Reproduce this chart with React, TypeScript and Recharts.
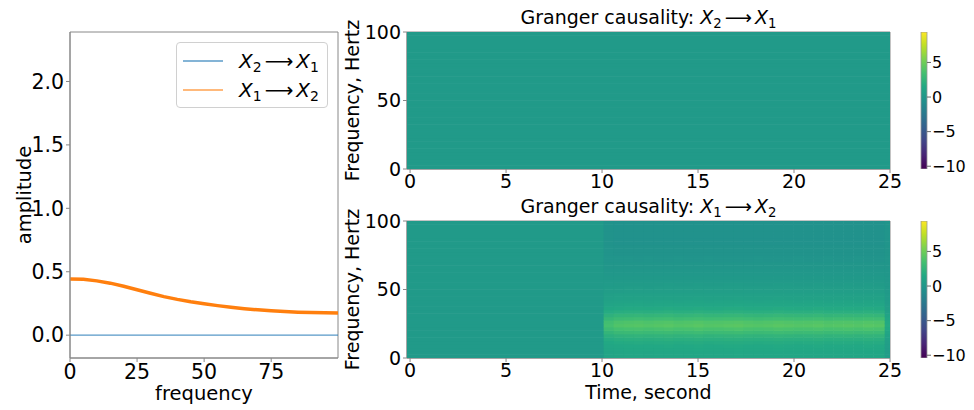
import {
  Bar,
  BarChart,
  Legend,
  Line,
  LineChart,
  ReferenceArea,
  Scatter,
  ScatterChart,
  XAxis,
  YAxis,
} from "recharts";

const FONT = '"DejaVu Sans", sans-serif';

// left panel: spectra
const freqPoints = [0, 5, 10, 15, 20, 25, 30, 35, 40, 45, 50, 55, 60, 65, 70, 75, 80, 85, 90, 95, 99.9];
const ampX2toX1 = [0, 0, 0, 0, 0, 0, 0, 0, 0, 0, 0, 0, 0, 0, 0, 0, 0, 0, 0, 0, 0];
const ampX1toX2 = [
  0.442, 0.44, 0.428, 0.41, 0.386, 0.358, 0.33, 0.304, 0.282, 0.263, 0.247, 0.233, 0.22, 0.209,
  0.2, 0.192, 0.186, 0.181, 0.178, 0.176, 0.175,
];
const ampTicksY = [0, 0.5, 1, 1.5, 2];
const ampTicksX = [0, 25, 50, 75];

// right panels: spectrograms
const freqBins = [
  1.25, 3.75, 6.25, 8.75, 11.25, 13.75, 16.25, 18.75, 21.25, 23.75, 26.25, 28.75, 31.25, 33.75,
  36.25, 38.75, 41.25, 43.75, 46.25, 48.75, 51.25, 53.75, 56.25, 58.75, 61.25, 63.75, 66.25,
  68.75, 71.25, 73.75, 76.25, 78.75, 81.25, 83.75, 86.25, 88.75, 91.25, 93.75, 96.25, 98.75,
];
const gcX2toX1 = [
  0.3, 0.3, 0.3, 0.3, 0.3, 0.3, 0.3, 0.3, 0.3, 0.3, 0.3, 0.3, 0.3, 0.3, 0.3, 0.3, 0.3, 0.3, 0.3,
  0.3, 0.3, 0.3, 0.3, 0.3, 0.3, 0.3, 0.3, 0.3, 0.3, 0.3, 0.3, 0.3, 0.3, 0.3, 0.3, 0.3, 0.3, 0.3,
  0.3, 0.3,
];
const gcX1toX2Before = [
  0.3, 0.3, 0.3, 0.3, 0.3, 0.3, 0.3, 0.3, 0.3, 0.3, 0.3, 0.3, 0.3, 0.3, 0.3, 0.3, 0.3, 0.3, 0.3,
  0.3, 0.3, 0.3, 0.3, 0.3, 0.3, 0.3, 0.3, 0.3, 0.3, 0.3, 0.3, 0.3, 0.3, 0.3, 0.3, 0.3, 0.3, 0.3,
  0.3, 0.3,
];
const gcX1toX2After = [
  1.3, 1.3, 1.4, 1.5, 1.7, 2.0, 2.4, 3.0, 3.6, 4.1, 3.9, 3.2, 2.6, 2.0, 1.6, 1.3, 1.1, 0.9, 0.8,
  0.6, 0.5, 0.4, 0.3, 0.2, 0.1, 0.0, -0.1, -0.1, -0.2, -0.2, -0.3, -0.3, -0.3, -0.4, -0.4,
  -0.4, -0.4, -0.4, -0.4, -0.4,
];
const timeEdgesAfter = [
  10.1, 10.62, 11.14, 11.66, 12.18, 12.7, 13.22, 13.74, 14.26, 14.78, 15.3, 15.82, 16.34, 16.86,
  17.38, 17.9, 18.42, 18.94, 19.46, 19.98, 20.5, 21.02, 21.54, 22.06, 22.58, 23.1, 23.62, 24.14,
  24.74, 25.0,
];
const columnGain = [
  0.85, 0.95, 0.98, 1.0, 0.97, 1.0, 1.02, 0.98, 1.0, 1.03, 0.99, 1.0, 1.02, 1.04, 1.0, 0.98, 1.0,
  1.03, 1.01, 0.99, 1.0, 1.02, 0.98, 1.0, 1.01, 0.99, 1.02, 1.0, 0.4,
];
const timeTicks = [0, 5, 10, 15, 20, 25];
const freqTicks = [0, 50, 100];
const cbarTicks = [-10, -5, 0, 5];

const T_MIN = -0.16;
const T_MAX = 25;
const V_MIN = -10.4;
const V_MAX = 9.4;
const BIN_HZ = 2.5;

const PLOT_W = 483;
const PLOT_H = 137;
const PX_PER_S = PLOT_W / (T_MAX - T_MIN);
const PX_PER_HZ = PLOT_H / 100;

const VIRIDIS = [
  "#440154", "#482475", "#414487", "#355f8d", "#2a788e", "#21918c",
  "#22a884", "#44bf70", "#7ad151", "#bddf26", "#fde725",
];

function hexRgb(h: string) {
  return [1, 3, 5].map((i) => parseInt(h.slice(i, i + 2), 16));
}

function viridis(t: number) {
  const c = Math.max(0, Math.min(1, t)) * (VIRIDIS.length - 1);
  const i = Math.min(Math.floor(c), VIRIDIS.length - 2);
  const f = c - i;
  const a = hexRgb(VIRIDIS[i]);
  const b = hexRgb(VIRIDIS[i + 1]);
  const rgb = a.map((v, k) => Math.round(v + (b[k] - v) * f));
  return `rgb(${rgb.join(",")})`;
}

const colorOf = (v: number) => viridis((v - V_MIN) / (V_MAX - V_MIN));

type Cell = { t: number; f: number; w: number; v: number };

function spanCells(values: number[], t0: number, t1: number, gain = 1): Cell[] {
  return freqBins.map((f, i) => ({ t: (t0 + t1) / 2, f, w: t1 - t0, v: values[i] * gain }));
}

const cellsX2toX1 = spanCells(gcX2toX1, T_MIN, T_MAX);
const cellsX1toX2 = [
  ...spanCells(gcX1toX2Before, T_MIN, timeEdgesAfter[0]),
  ...columnGain.flatMap((g, j) =>
    spanCells(gcX1toX2After, timeEdgesAfter[j], timeEdgesAfter[j + 1], g)
  ),
];

const ampData = freqPoints.map((f, i) => ({ f, a21: ampX2toX1[i], a12: ampX1toX2[i] }));

const subStyle = { fontSize: "0.7em", verticalAlign: "-0.3em", lineHeight: 0 };

function Causal({ from, to }: { from: number; to: number }) {
  return (
    <span>
      <i>X</i>
      <sub style={subStyle}>{from}</sub>
      <span style={{ margin: "0 3px" }}>⟶</span>
      <i>X</i>
      <sub style={subStyle}>{to}</sub>
    </span>
  );
}

const series = [
  { key: "a21", from: 2, to: 1, color: "#1f77b4" },
  { key: "a12", from: 1, to: 2, color: "#ff7f0e" },
];

function AmpLegend() {
  return (
    <div
      style={{
        border: "1px solid #d0d0d0",
        borderRadius: 4,
        background: "rgba(255,255,255,0.8)",
        padding: "3px 0 3px 6px",
        fontFamily: FONT,
        fontSize: 20,
        boxSizing: "border-box",
        width: 152,
      }}
    >
      {series.map((s) => (
        <div key={s.key} style={{ display: "flex", alignItems: "center", height: 29 }}>
          <svg width={40} height={4} style={{ marginRight: 16 }}>
            <line x1={0} x2={40} y1={2} y2={2} stroke={s.color} strokeOpacity={0.55} strokeWidth={2} />
          </svg>
          <Causal from={s.from} to={s.to} />
        </div>
      ))}
    </div>
  );
}

function HeatCell(props: any) {
  const { cx, cy, payload } = props;
  const w = payload.w * PX_PER_S + 0.6;
  const h = BIN_HZ * PX_PER_HZ + 0.6;
  return <rect x={cx - w / 2} y={cy - h / 2} width={w} height={h} fill={colorOf(payload.v)} />;
}

const tickStyle = { fill: "#000", fontSize: 19, fontFamily: FONT };
const ampTickStyle = { fill: "#000", fontSize: 20.5, fontFamily: FONT };
const minus = (v: number) => (v < 0 ? `\u2212${Math.abs(v)}` : String(v));

function Spectrogram({ cells, top, showTime }: { cells: Cell[]; top: number; showTime: boolean }) {
  const height = showTime ? 221 : 200;
  return (
    <div style={{ position: "absolute", left: 340, top }}>
      <ScatterChart width={580} height={height} margin={{ top: 32, right: 30, bottom: 0, left: 0 }}>
        <XAxis
          type="number"
          dataKey="t"
          domain={[T_MIN, T_MAX]}
          ticks={timeTicks}
          allowDataOverflow
          height={showTime ? 52 : 31}
          tick={tickStyle}
          tickSize={4}
          tickMargin={2}
          stroke="#888"
          label={
            showTime
              ? {
                  value: "Time, second",
                  position: "insideBottom",
                  offset: 11,
                  style: { fontSize: 19, fill: "#000", fontFamily: FONT },
                }
              : undefined
          }
        />
        <YAxis
          type="number"
          dataKey="f"
          domain={[0, 100]}
          ticks={freqTicks}
          allowDataOverflow
          width={67}
          tick={tickStyle}
          tickSize={4}
          tickMargin={2}
          stroke="#888"
          label={{
            value: "Frequency, Hertz",
            angle: -90,
            position: "insideLeft",
            offset: 12,
            style: { textAnchor: "middle", fontSize: 19, fill: "#000", fontFamily: FONT },
          }}
        />
        <Scatter data={cells} shape={HeatCell} isAnimationActive={false} />
        <ReferenceArea x1={T_MIN} x2={T_MAX} y1={0} y2={100} fill="none" stroke="#888" />
      </ScatterChart>
    </div>
  );
}

function Colorbar({ top, id, bottom }: { top: number; id: string; bottom: number }) {
  return (
    <div style={{ position: "absolute", left: 900, top }}>
      <BarChart
        width={74}
        height={200 + bottom - 31}
        data={[{ name: "cb", range: [V_MIN, V_MAX] }]}
        margin={{ top: 32, right: 0, bottom, left: 21 }}
        barCategoryGap={0}
      >
        <defs>
          <linearGradient id={id} x1="0" y1="1" x2="0" y2="0">
            {VIRIDIS.map((c, i) => (
              <stop key={c} offset={i / (VIRIDIS.length - 1)} stopColor={c} />
            ))}
          </linearGradient>
        </defs>
        <XAxis dataKey="name" hide />
        <YAxis
          orientation="right"
          type="number"
          domain={[V_MIN, V_MAX]}
          ticks={cbarTicks}
          allowDataOverflow
          width={47}
          axisLine={false}
          tick={{ ...tickStyle, fontSize: 16 }}
          tickSize={4}
          tickMargin={1}
          tickLine={{ stroke: "#666" }}
          tickFormatter={minus}
        />
        <Bar dataKey="range" fill={`url(#${id})`} stroke="#999" strokeWidth={0.8} isAnimationActive={false} />
      </BarChart>
    </div>
  );
}

function Title({ top, from, to }: { top: number; from: number; to: number }) {
  return (
    <div
      style={{
        position: "absolute",
        left: 407,
        top,
        width: 483,
        textAlign: "center",
        fontFamily: FONT,
        fontSize: 19,
        lineHeight: "22px",
      }}
    >
      Granger causality: <Causal from={from} to={to} />
    </div>
  );
}

export default function App() {
  return (
    <div
      style={{
        position: "absolute",
        left: 0,
        top: 0,
        width: 974,
        height: 410,
        background: "#fff",
        overflow: "hidden",
      }}
    >
      <div style={{ position: "absolute", left: 0, top: 0 }}>
        <LineChart width={345} height={410} data={ampData} margin={{ top: 32, right: 7, bottom: 2, left: 0 }}>
          <XAxis
            type="number"
            dataKey="f"
            domain={[0, 99.9]}
            ticks={ampTicksX}
            allowDataOverflow
            height={50}
            tick={ampTickStyle}
            tickSize={4}
            tickMargin={2}
            stroke="#888"
            label={{
              value: "frequency",
              position: "insideBottom",
              offset: 8,
              style: { fontSize: 19.5, fill: "#000", fontFamily: FONT },
            }}
          />
          <YAxis
            type="number"
            domain={[-0.18, 2.39]}
            ticks={ampTicksY}
            allowDataOverflow
            width={70}
            tick={ampTickStyle}
            tickSize={4}
            tickMargin={2}
            tickFormatter={(v: number) => v.toFixed(1)}
            stroke="#888"
            label={{
              value: "amplitude",
              angle: -90,
              position: "insideLeft",
              offset: 24,
              style: { textAnchor: "middle", fontSize: 19.5, fill: "#000", fontFamily: FONT },
            }}
          />
          <Line dataKey="a21" stroke="#1f77b4" strokeOpacity={0.75} strokeWidth={1.2} dot={false} activeDot={false} isAnimationActive={false} />
          <Line dataKey="a12" stroke="#ff7f0e" strokeWidth={3.5} dot={false} activeDot={false} isAnimationActive={false} />
          <ReferenceArea x1={0} x2={99.9} y1={-0.18} y2={2.39} fill="none" stroke="#888" />
          <Legend
            layout="horizontal"
            verticalAlign="middle"
            align="center"
            content={() => <AmpLegend />}
            wrapperStyle={{ top: 42, left: 176, width: 152 }}
          />
        </LineChart>
      </div>

      <Spectrogram cells={cellsX2toX1} top={0} showTime={false} />
      <Spectrogram cells={cellsX1toX2} top={189} showTime />
      <Colorbar top={0} id="cbTop" bottom={31} />
      <Colorbar top={189} id="cbBottom" bottom={52} />
      <Title top={6} from={2} to={1} />
      <Title top={195} from={1} to={2} />
    </div>
  );
}
